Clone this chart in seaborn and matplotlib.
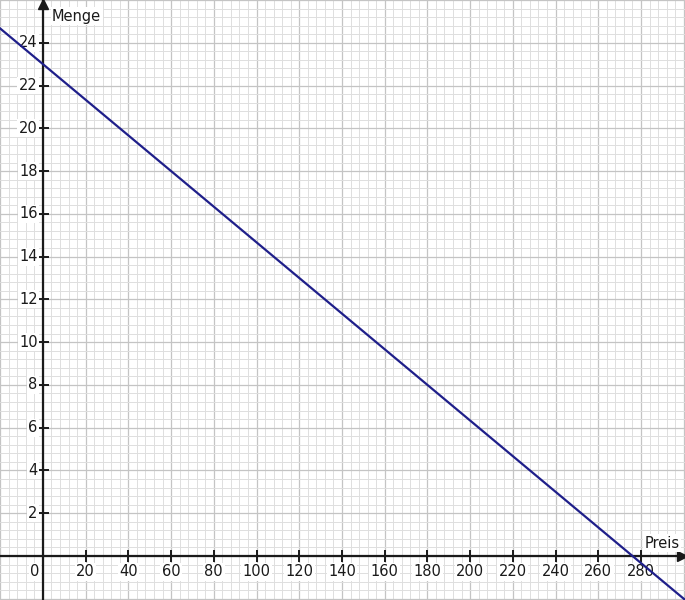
import matplotlib
matplotlib.use("Agg")
import matplotlib.pyplot as plt
import seaborn as sns
from matplotlib.ticker import MultipleLocator, NullFormatter

# Demand line (Preis -> Menge), extended past both edges
preis = [-24, 0, 276, 312]
menge = [25, 23, 0, -3]

x_labels = list(range(20, 300, 20))
y_labels = list(range(2, 26, 2))

sns.set_style("white")
plt.rcParams['font.family'] = ['DejaVu Sans']

fig = plt.figure(figsize=(6.85, 6), dpi=100)
ax = fig.add_axes([0, 0, 1, 1])

# line sits on top of the label boxes, as in the reference
sns.lineplot(x=preis, y=menge, ax=ax, color="#1f1f8a", linewidth=1.6,
             sort=False, zorder=7)

ax.set_xlim(-20.1, 300.6)
ax.set_ylim(-2.06, 26.0)

# grid: major every 20 / 2, minor every 4 / 0.4
ax.xaxis.set_major_locator(MultipleLocator(20))
ax.xaxis.set_minor_locator(MultipleLocator(4))
ax.yaxis.set_major_locator(MultipleLocator(2))
ax.yaxis.set_minor_locator(MultipleLocator(0.4))
ax.grid(which="major", color="#c4c4c4", linewidth=0.9)
ax.grid(which="minor", color="#dedede", linewidth=0.7)
ax.set_axisbelow(True)
ax.xaxis.set_major_formatter(NullFormatter())
ax.yaxis.set_major_formatter(NullFormatter())
ax.tick_params(which="both", bottom=False, left=False)

# axes through the origin
for s in ["top", "right"]:
    ax.spines[s].set_visible(False)
ax.spines["left"].set_position(("data", 0))
ax.spines["bottom"].set_position(("data", 0))
for s in ["left", "bottom"]:
    ax.spines[s].set_linewidth(1.6)
    ax.spines[s].set_color("#1a1a1a")
    ax.spines[s].set_zorder(4)

# tick marks crossing the axes
ax.plot(x_labels, [0] * len(x_labels), linestyle="none", marker="|",
        markersize=8, markeredgewidth=1.4, color="#1a1a1a", zorder=4)
ax.plot([0] * len(y_labels), y_labels, linestyle="none", marker="_",
        markersize=8, markeredgewidth=1.4, color="#1a1a1a", zorder=4)

box = dict(facecolor="white", edgecolor="none", pad=1.0)
for v in x_labels:
    ax.text(v, -0.38, str(v), ha="center", va="top", fontsize=10.5,
            color="#1a1a1a", bbox=box, zorder=5)
for v in y_labels:
    ax.text(-2.5, v, str(v), ha="right", va="center", fontsize=10.5,
            color="#1a1a1a", bbox=box, zorder=5)
ax.text(-3.8, -0.38, "0", ha="center", va="top", fontsize=10.5,
        color="#1a1a1a", bbox=box, zorder=5)

# arrow heads
ax.plot(0.995, 0, ">", color="#1a1a1a", markersize=7,
        transform=ax.get_yaxis_transform(), clip_on=False, zorder=5)
ax.plot(0, 0.993, "^", color="#1a1a1a", markersize=7,
        transform=ax.get_xaxis_transform(), clip_on=False, zorder=5)

ax.text(52 / 685, 1 - 16 / 600, "Menge", transform=ax.transAxes,
        ha="left", va="center", fontsize=10.5, color="#1a1a1a", bbox=box, zorder=5)
ax.text(680 / 685, 1 - 543 / 600, "Preis", transform=ax.transAxes,
        ha="right", va="center", fontsize=10.5, color="#1a1a1a", bbox=box, zorder=5)

fig.savefig("out.png", dpi=100)
